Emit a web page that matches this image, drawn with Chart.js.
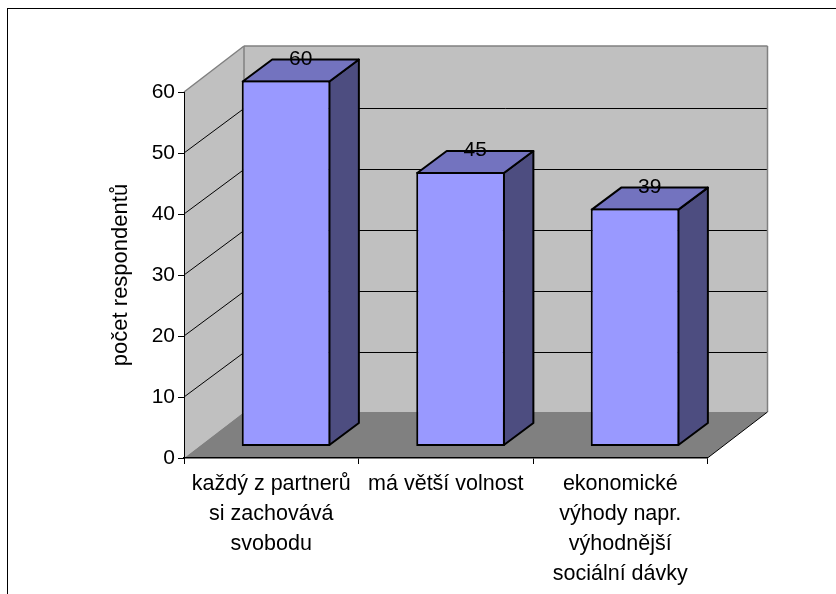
<!DOCTYPE html>
<html>
<head>
<meta charset="utf-8">
<title>počet respondentů</title>
<script src="https://cdn.jsdelivr.net/npm/chart.js@4"></script>
<style>
  body { margin: 0; background: #fff; overflow: hidden; }
  #frame { position: absolute; left: 7px; top: 8px; width: 829px; height: 586px; border-left: 1px solid #000; border-top: 1px solid #000; box-sizing: border-box; }
  canvas { position: absolute; left: 0; top: 0; }
</style>
</head>
<body>
<div id="frame"></div>
<canvas id="chart" width="836" height="594"></canvas>
<script>
const categories = [
  ["každý z partnerů", "si zachovává", "svobodu"],
  "má větší volnost",
  ["ekonomické", "výhody napr.", "výhodnější", "sociální dávky"],
];
const respondents = [60, 45, 39];
const axisTitle = "počet respondentů";

// fake 3D depth, pixels
const depthX = 60;
const depthY = 46;
const barShiftX = 14.8;
const barShiftY = 11.5;
const barDepthX = 29.5;
const barDepthY = 22;
const fontFamily = '"Liberation Sans", Arial, sans-serif';

function poly(ctx, points, fill, stroke, lineWidth) {
  ctx.beginPath();
  points.forEach(([x, y], i) => (i ? ctx.lineTo(x, y) : ctx.moveTo(x, y)));
  ctx.closePath();
  if (fill) {
    ctx.fillStyle = fill;
    ctx.fill();
  }
  if (stroke) {
    ctx.strokeStyle = stroke;
    ctx.lineWidth = lineWidth;
    ctx.lineJoin = "round";
    ctx.stroke();
  }
}

function line(ctx, x1, y1, x2, y2, color, width) {
  ctx.beginPath();
  ctx.moveTo(x1, y1);
  ctx.lineTo(x2, y2);
  ctx.strokeStyle = color;
  ctx.lineWidth = width;
  ctx.stroke();
}

const box3d = {
  id: "box3d",
  beforeDraw(chart) {
    const ctx = chart.ctx;
    const { left, right, top, bottom } = chart.chartArea;
    ctx.save();
    // back wall, side wall, floor
    poly(ctx, [[left + depthX, top - depthY], [right + depthX, top - depthY], [right + depthX, bottom - depthY], [left + depthX, bottom - depthY]], "#c0c0c0");
    poly(ctx, [[left, top], [left + depthX, top - depthY], [left + depthX, bottom - depthY], [left, bottom]], "#c0c0c0");
    poly(ctx, [[left, bottom], [right, bottom], [right + depthX, bottom - depthY], [left + depthX, bottom - depthY]], "#808080");
    // grid lines
    const yScale = chart.scales.y;
    yScale.ticks.forEach((tick) => {
      if (tick.value === 0 || tick.value === yScale.max) return;
      const y = yScale.getPixelForValue(tick.value);
      const backY = Math.round(y - depthY + 0.8) + 0.5;
      line(ctx, left, y, left + depthX, backY, "#000", 1);
      line(ctx, left + depthX, backY, right + depthX, backY, "#000", 1);
    });
    // wall outline
    line(ctx, left, top, left + depthX, top - depthY, "#808080", 1.5);
    line(ctx, left + depthX, top - depthY, right + depthX, top - depthY, "#808080", 1.5);
    line(ctx, left + depthX, top - depthY, left + depthX, bottom - depthY, "#808080", 1.5);
    line(ctx, right + depthX, top - depthY, right + depthX, bottom - depthY, "#808080", 1.5);
    line(ctx, right, bottom, right + depthX, bottom - depthY, "#000", 1);
    ctx.restore();
  },
  beforeDatasetsDraw(chart) {
    const ctx = chart.ctx;
    ctx.save();
    chart.getDatasetMeta(0).data.forEach((bar) => {
      const l = bar.x - bar.width / 2 + barShiftX + 1;
      const r = bar.x + bar.width / 2 + barShiftX - 1;
      const t = bar.y - barShiftY + 1;
      const b = bar.base - barShiftY - 1;
      poly(ctx, [[r, t], [r + barDepthX, t - barDepthY], [r + barDepthX, b - barDepthY], [r, b]], "#4d4d80", "#000", 2);
      poly(ctx, [[l, t], [r, t], [r + barDepthX, t - barDepthY], [l + barDepthX, t - barDepthY]], "#7373bf", "#000", 2);
    });
    ctx.restore();
    // the front faces are the chart's own bars, moved into the floor
    ctx.save();
    ctx.translate(barShiftX, -barShiftY);
  },
  afterDatasetsDraw(chart) {
    const ctx = chart.ctx;
    ctx.restore();
    ctx.save();
    ctx.fillStyle = "#000";
    ctx.font = "21px " + fontFamily;
    ctx.textAlign = "center";
    ctx.textBaseline = "middle";
    chart.getDatasetMeta(0).data.forEach((bar, i) => {
      ctx.fillText(respondents[i], bar.x + barShiftX + barDepthX / 2, bar.y - barShiftY - barDepthY + 0.5);
    });
    ctx.restore();
  },
};

new Chart(document.getElementById("chart"), {
  type: "bar",
  data: {
    labels: categories,
    datasets: [
      {
        data: respondents,
        backgroundColor: "#9999ff",
        borderColor: "#000",
        borderWidth: 2,
        borderSkipped: false,
        barPercentage: 0.508,
        categoryPercentage: 1,
        clip: false,
      },
    ],
  },
  options: {
    responsive: false,
    animation: false,
    layout: { padding: { left: 0, top: 92, right: 128.5, bottom: 0 } },
    plugins: { legend: { display: false }, tooltip: { enabled: false } },
    scales: {
      x: {
        afterFit: (scale) => { scale.height = 136; },
        grid: { drawOnChartArea: false, tickLength: 6, color: "#000" },
        border: { color: "#000", width: 1.5 },
        ticks: {
          color: "#000",
          padding: 5,
          autoSkip: false,
          maxRotation: 0,
          font: { family: fontFamily, size: 21.5, lineHeight: 30 / 21.5 },
        },
      },
      y: {
        min: 0,
        max: 60,
        afterFit: (scale) => { scale.width = 184; },
        grid: { drawOnChartArea: false, tickLength: 6, color: "#000" },
        border: { color: "#000", width: 1 },
        ticks: {
          stepSize: 10,
          color: "#000",
          padding: 3,
          font: { family: fontFamily, size: 21 },
        },
        title: {
          display: true,
          text: axisTitle,
          color: "#000",
          padding: { top: 108, bottom: 0 },
          font: { family: fontFamily, size: 22 },
        },
      },
    },
  },
  plugins: [box3d],
});
</script>
</body>
</html>
